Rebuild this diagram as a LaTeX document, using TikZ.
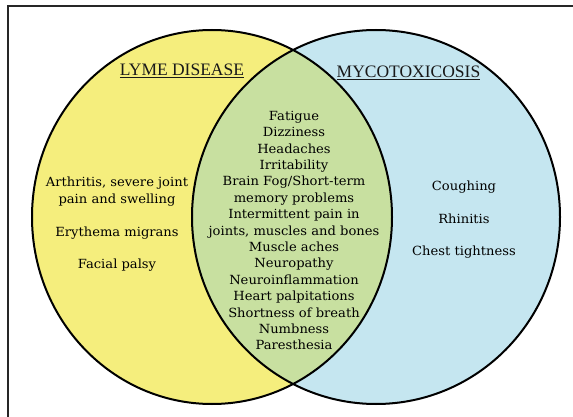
\documentclass[tikz,border=0pt]{standalone}
\usepackage{fontspec}
\setmainfont{DejaVu Serif}[FakeStretch=1.04]
\newfontfamily\headfont{Liberation Serif}
\definecolor{lymefill}{RGB}{245,238,125}
\definecolor{mycofill}{RGB}{197,230,240}
\definecolor{bothfill}{RGB}{200,224,160}
\begin{document}
\begin{tikzpicture}[x=1pt,y=-1pt,
 body/.style={font=\fontsize{12.6}{16.4}\selectfont, align=center, inner sep=0pt, text=black},
 item/.style={body, anchor=base},
 head/.style={font=\headfont\fontsize{17.5}{20}\selectfont, inner sep=0pt, anchor=base, text=black!90},
 ring/.style={line width=2pt, draw=black},
 frame/.style={draw=black!85}]
\useasboundingbox (0,0) rectangle (573,417);
% fills
\fill[lymefill] (212,217) ellipse [x radius=180pt, y radius=187pt];
\fill[mycofill] (376,217) ellipse [x radius=184pt, y radius=187pt];
\begin{scope}
  \clip (212,217) ellipse [x radius=180pt, y radius=187pt];
  \fill[bothfill] (376,217) ellipse [x radius=184pt, y radius=187pt];
\end{scope}
% outlines
\draw[ring] (212,217) ellipse [x radius=180pt, y radius=187pt];
\draw[ring] (376,217) ellipse [x radius=184pt, y radius=187pt];
% frame
\draw[frame, line width=2pt] (8,6.5) -- (573,6.5);
\draw[frame, line width=1.3pt] (8,5.5) -- (8,417);
% headings
\node[head] (lymehead) at (182,76) {\underline{LYME DISEASE}};
\node[head] (mycohead) at (408.5,78) {\underline{MYCOTOXICOSIS}};
% common
\node[body] (both) at (294,230.5) {Fatigue\\Dizziness\\Headaches\\Irritability\\Brain Fog/Short-term\\memory problems\\Intermittent pain in\\joints, muscles and bones\\Muscle aches\\Neuropathy\\Neuroinflammation\\Heart palpitations\\Shortness of breath\\Numbness\\Paresthesia};
% lyme only
\node[body] (arth) at (117,191.5) {Arthritis, severe joint\\pain and swelling};
\node[item] (ery) at (117,236) {Erythema migrans};
\node[item] (fac) at (117,268) {Facial palsy};
% myco only
\node[item] (cough) at (464,190) {Coughing};
\node[item] (rhin) at (464,223) {Rhinitis};
\node[item] (chest) at (464,255) {Chest tightness};
\end{tikzpicture}
\end{document}
